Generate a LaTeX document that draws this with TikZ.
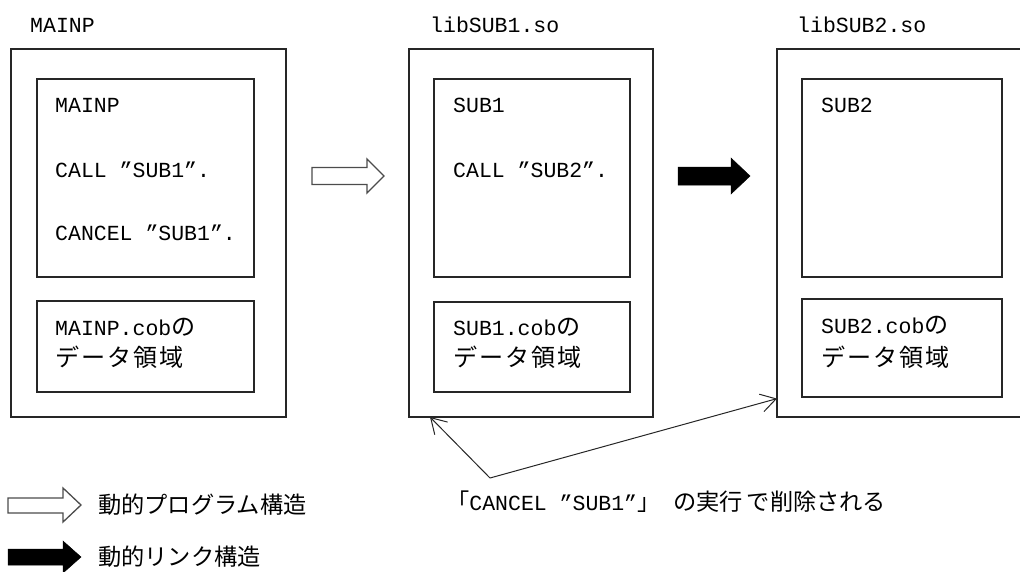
\documentclass[tikz,border=0pt]{standalone}
\usepackage{fontspec}
\setmainfont{Liberation Mono}
\newfontfamily\cjk[Scale=1.12,LetterSpace=8]{Noto Sans CJK JP}
\newfontfamily\cjkb[Scale=1.08]{Noto Sans CJK JP}
\usetikzlibrary{arrows.meta,calc}
\begin{document}
\begin{tikzpicture}[x=1pt,y=-1pt,
  box/.style={draw=black!85, line width=1.4pt, anchor=north west, inner sep=0pt, outer sep=0pt},
  txt/.style={anchor=base west, inner sep=0pt, font=\fontsize{21.5}{26}\selectfont},
  hollowarrow/.style={draw=black!70, line width=1.3pt, fill=white, line join=miter},
  solidarrow/.style={fill=black, draw=black, line width=0.5pt},
  conn/.style={draw=black!85, line width=1pt, -{Straight Barb[length=15pt,width=18pt]}}
]
\useasboundingbox (0,0) rectangle (1020,571);

% MAINP
\node[box, minimum width=275, minimum height=368] (m) at (11,49) {};
\node[box, minimum width=217, minimum height=198] (mc) at (37,79) {};
\node[box, minimum width=217, minimum height=91] (md) at (37,301) {};
\node[txt] (mlab) at (30,32) {MAINP};
\node[txt] (mt1) at (55,112) {MAINP};
\node[txt] (mt2) at (55,177) {CALL ”SUB1”.};
\node[txt] (mt3) at (55,240) {CANCEL ”SUB1”.};
\node[txt] (md1) at (55,335) {MAINP.cob{\cjk の}};
\node[txt] (md2) at (55,366) {\cjk データ領域};

% libSUB1
\node[box, minimum width=244, minimum height=368] (s1) at (409,49) {};
\node[box, minimum width=196, minimum height=198] (s1c) at (434,79) {};
\node[box, minimum width=196, minimum height=90] (s1d) at (434,302) {};
\node[txt] (s1lab) at (430,32) {libSUB1.so};
\node[txt] (s1t1) at (453,112) {SUB1};
\node[txt] (s1t2) at (453,177) {CALL ”SUB2”.};
\node[txt] (s1d1) at (453,335) {SUB1.cob{\cjk の}};
\node[txt] (s1d2) at (453,366) {\cjk データ領域};

% libSUB2
\node[box, minimum width=246, minimum height=368] (s2) at (777,49) {};
\node[box, minimum width=200, minimum height=198] (s2c) at (802,79) {};
\node[box, minimum width=200, minimum height=98] (s2d) at (802,299) {};
\node[txt] (s2lab) at (797,32) {libSUB2.so};
\node[txt] (s2t1) at (821,112) {SUB2};
\node[txt] (s2d1) at (821,333) {SUB2.cob{\cjk の}};
\node[txt] (s2d2) at (821,366) {\cjk データ領域};

% block arrows
\path[hollowarrow] (312,167.5) -- (367,167.5) -- (367,159) -- (384,176) -- (367,193) -- (367,184.5) -- (312,184.5) -- cycle;
\path[solidarrow] (678,167) -- (731,167) -- (731,158) -- (750,176) -- (731,194) -- (731,185) -- (678,185) -- cycle;

% CANCEL connectors
\coordinate (apex) at (490,478);
\draw[conn] (apex) -- ($(s1.south west)!0.086!(s1.south east)$);
\draw[conn] (apex) -- ($(s2.south west)!0.05!(s2.north west)$);
\node[txt] (cap) at (446,510) {{\cjkb 「}CANCEL ”SUB1”{\cjkb 」} {\cjkb の実行\,で削除される}};

% legend
\path[hollowarrow] (8,498) -- (63,498) -- (63,488) -- (81,505) -- (63,522) -- (63,513) -- (8,513) -- cycle;
\node[txt] (leg1) at (98,513) {\cjkb 動的プログラム構造};
\path[solidarrow] (8,549) -- (63,549) -- (63,541) -- (81,557) -- (63,573) -- (63,565) -- (8,565) -- cycle;
\node[txt] (leg2) at (98,565) {\cjkb 動的リンク構造};
\end{tikzpicture}
\end{document}
